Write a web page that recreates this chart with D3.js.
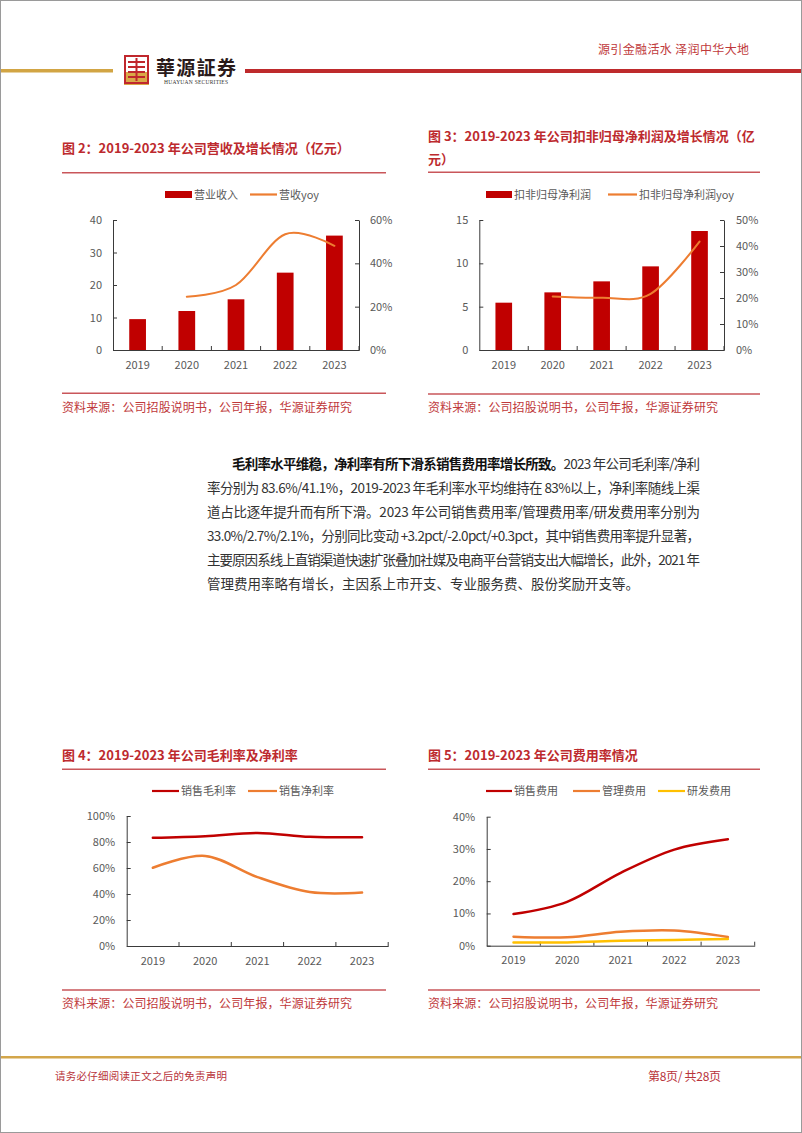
<!DOCTYPE html>
<html><head><meta charset="utf-8">
<script src="https://cdn.jsdelivr.net/npm/d3@7"></script>
<style>body{margin:0;background:#fff}svg{display:block}</style>
</head><body><svg id="page" width="802" height="1133"></svg>
<script>
// ---------- data ----------
const years = ["2019", "2020", "2021", "2022", "2023"];
const revenue = [9.5, 12.0, 15.6, 23.8, 35.2];
const revenueYoy = [null, 0.246, 0.300, 0.534, 0.481];
const profit = [5.46, 6.65, 7.92, 9.65, 13.73];
const profitYoy = [null, 0.206, 0.201, 0.216, 0.417];
const grossMargin = [0.832, 0.845, 0.870, 0.840, 0.836];
const netMargin = [0.602, 0.693, 0.530, 0.415, 0.411];
const salesExp = [0.098, 0.136, 0.226, 0.298, 0.330];
const adminExp = [0.028, 0.026, 0.043, 0.047, 0.027];
const rdExp = [0.010, 0.010, 0.015, 0.018, 0.021];
const revTicks = [0, 10, 20, 30, 40];
const revYoyTicks = [0, 0.2, 0.4, 0.6];
const profitTicks = [0, 5, 10, 15];
const profitYoyTicks = [0, 0.1, 0.2, 0.3, 0.4, 0.5];
const marginTicks = [0, 0.2, 0.4, 0.6, 0.8, 1.0];
const expTicks = [0, 0.1, 0.2, 0.3, 0.4];
const titles = ["图 2：2019-2023 年公司营收及增长情况（亿元）",
  "图 3：2019-2023 年公司扣非归母净利润及增长情况（亿", "元）",
  "图 4：2019-2023 年公司毛利率及净利率", "图 5：2019-2023 年公司费用率情况"];
const sourceText = "资料来源：公司招股说明书，公司年报，华源证券研究";
const paragraph = [
  ["毛利率水平维稳，净利率有所下滑系销售费用率增长所致。", "2023 年公司毛利率/净利"],
  ["", "率分别为 83.6%/41.1%，2019-2023 年毛利率水平均维持在 83%以上，净利率随线上渠"],
  ["", "道占比逐年提升而有所下滑。2023 年公司销售费用率/管理费用率/研发费用率分别为"],
  ["", "33.0%/2.7%/2.1%，分别同比变动 +3.2pct/-2.0pct/+0.3pct，其中销售费用率提升显著，"],
  ["", "主要原因系线上直销渠道快速扩张叠加社媒及电商平台营销支出大幅增长，此外，2021 年"],
  ["", "管理费用率略有增长，主因系上市开支、专业服务费、股份奖励开支等。"]
];

// ---------- styles ----------
const FONT = "'Noto Sans CJK SC','Noto Sans',sans-serif";
const RED_DARK = "#C00000", ORANGE = "#ED7D31", GOLD = "#FFC000";
const TITLE_C = "#BD2A2E", RULE_C = "#C9565A", AXIS_C = "#3a3a3a", LABEL_C = "#595959";

const svg = d3.select("#page");
svg.append("rect").attr("x", 0.5).attr("y", 0.5).attr("width", 801).attr("height", 1132)
  .attr("fill", "#fff").attr("stroke", "#9a9a9a");

// ---------- header ----------
svg.append("rect").attr("x", 1).attr("y", 69).attr("width", 112).attr("height", 3.5).attr("fill", "#D2A544");
svg.append("rect").attr("x", 245).attr("y", 69).attr("width", 556).attr("height", 4).attr("fill", "#BE2A2C");
const logo = svg.append("g").attr("transform", "translate(124,55)");
logo.append("rect").attr("x", 0).attr("y", 17).attr("width", 25).attr("height", 13).attr("fill", "#D9A948");
logo.append("rect").attr("x", 1).attr("y", 1).attr("width", 23).attr("height", 27).attr("fill", "none")
  .attr("stroke", "#C0272D").attr("stroke-width", 2);
[6, 11, 16, 21].forEach(yy => {
  logo.append("rect").attr("x", 4).attr("y", yy).attr("width", 17).attr("height", 2).attr("fill", "#C0272D");
});
logo.append("rect").attr("x", 11.5).attr("y", 3).attr("width", 2).attr("height", 23).attr("fill", "#C0272D");
svg.append("text").attr("x", 156).attr("y", 75).attr("font-family", "'Noto Sans CJK TC',sans-serif")
  .attr("font-weight", 700).attr("font-size", 19).attr("fill", "#2a1a1a").attr("textLength", 80)
  .text("華源証券");
svg.append("text").attr("x", 164).attr("y", 83.5).attr("font-family", "'Liberation Serif',serif")
  .attr("font-size", 5.5).attr("fill", "#333").attr("textLength", 64).text("HUAYUAN SECURITIES");
svg.append("text").attr("x", 598).attr("y", 54).attr("font-family", FONT).attr("font-size", 12)
  .attr("fill", "#C0393B").attr("textLength", 151).text("源引金融活水 泽润中华大地");

// ---------- footer ----------
svg.append("rect").attr("x", 1).attr("y", 1056).attr("width", 800).attr("height", 2.5).attr("fill", "#D3A64B");
svg.append("text").attr("x", 55).attr("y", 1080).attr("font-family", FONT).attr("font-size", 10.5)
  .attr("fill", "#B8333A").attr("textLength", 172).text("请务必仔细阅读正文之后的免责声明");
svg.append("text").attr("x", 648).attr("y", 1081).attr("font-family", FONT).attr("font-size", 12)
  .attr("fill", "#B8333A").attr("textLength", 73).text("第8页/ 共28页");

// ---------- frame helpers ----------
function frame(x0, x1, titleLines, titleY, ruleY, srcRuleY, srcY) {
  titleLines.forEach((t, i) => {
    svg.append("text").attr("x", x0).attr("y", titleY + i * 22.5).attr("font-family", FONT)
      .attr("font-weight", 700).attr("font-size", 13).attr("fill", TITLE_C).text(t);
  });
  svg.append("line").attr("x1", x0).attr("x2", x1).attr("y1", ruleY).attr("y2", ruleY)
    .attr("stroke", RULE_C).attr("stroke-width", 1.5);
  svg.append("line").attr("x1", x0).attr("x2", x1).attr("y1", srcRuleY).attr("y2", srcRuleY)
    .attr("stroke", RULE_C).attr("stroke-width", 1.5);
  svg.append("text").attr("x", x0).attr("y", srcY).attr("font-family", FONT).attr("font-size", 12)
    .attr("fill", "#C0393B").attr("textLength", 290).text(sourceText);
}

function legend(items, y) {
  items.forEach(it => {
    if (it.type === "bar") {
      svg.append("rect").attr("x", it.x).attr("y", y - 3.5).attr("width", it.w).attr("height", 7).attr("fill", it.color);
    } else {
      svg.append("line").attr("x1", it.x).attr("x2", it.x + it.w).attr("y1", y).attr("y2", y)
        .attr("stroke", it.color).attr("stroke-width", 2.2);
    }
    svg.append("text").attr("x", it.x + it.w + 2).attr("y", y + 4).attr("font-family", FONT)
      .attr("font-size", 11).attr("fill", LABEL_C).text(it.label);
  });
}

function styleAxis(g) {
  g.selectAll("path.domain").attr("stroke", AXIS_C);
  g.selectAll(".tick line").attr("stroke", AXIS_C);
  g.selectAll("text").attr("font-family", FONT).attr("font-size", 11).attr("fill", LABEL_C);
}

function xAxis(x, yPos) {
  const g = svg.append("g").attr("transform", `translate(0,${yPos})`)
    .call(d3.axisBottom(x).tickSize(0).tickSizeOuter(0).tickPadding(11));
  styleAxis(g);
  const bounds = years.slice(1).map(d => x(d)).concat([x.range()[1]]);
  svg.append("g").selectAll("line").data(bounds).join("line")
    .attr("x1", d => d).attr("x2", d => d).attr("y1", yPos).attr("y2", yPos - 4)
    .attr("stroke", AXIS_C);
}

function leftAxis(y, xPos, ticks, fmt, pad) {
  const g = svg.append("g").attr("transform", `translate(${xPos},0)`)
    .call(d3.axisLeft(y).tickValues(ticks).tickFormat(fmt).tickSize(-4).tickSizeOuter(0).tickPadding(pad));
  styleAxis(g);
}
function rightAxis(y, xPos, ticks, fmt, pad) {
  const g = svg.append("g").attr("transform", `translate(${xPos},0)`)
    .call(d3.axisRight(y).tickValues(ticks).tickFormat(fmt).tickSize(-4).tickSizeOuter(0).tickPadding(pad));
  styleAxis(g);
}

const pct = d3.format(".0%");
const curve = d3.curveCardinal.tension(0);

function drawLine(x, y, values, color, width) {
  const pts = years.map((d, i) => [d, values[i]]).filter(p => p[1] !== null);
  svg.append("path").datum(pts)
    .attr("d", d3.line().x(p => x(p[0]) + x.bandwidth() / 2).y(p => y(p[1])).curve(curve))
    .attr("fill", "none").attr("stroke", color).attr("stroke-width", width).attr("stroke-linecap", "round");
}
function drawBars(x, y, values) {
  const bw = x.bandwidth() * 0.34;
  svg.append("g").selectAll("rect").data(values).join("rect")
    .attr("x", (d, i) => x(years[i]) + x.bandwidth() / 2 - bw / 2)
    .attr("y", d => y(d)).attr("width", bw).attr("height", d => y(0) - y(d))
    .attr("fill", RED_DARK);
}

// ---------- Chart 2 ----------
frame(62, 386, [titles[0]], 153, 172.7, 393.3, 411.5);
legend([{type: "bar", x: 165, w: 27, color: RED_DARK, label: "营业收入"},
        {type: "line", x: 250, w: 27, color: ORANGE, label: "营收yoy"}], 194.5);
{
  const x = d3.scaleBand().domain(years).range([113, 359]).padding(0);
  const y = d3.scaleLinear().domain([0, 40]).range([350, 220]);
  const y2 = d3.scaleLinear().domain([0, 0.6]).range([350, 220]);
  drawBars(x, y, revenue);
  leftAxis(y, 113, revTicks, d3.format("d"), 11);
  rightAxis(y2, 359, revYoyTicks, pct, 11);
  xAxis(x, 350);
  drawLine(x, y2, revenueYoy, ORANGE, 2);
}

// ---------- Chart 3 ----------
frame(428, 760, [titles[1], titles[2]], 141, 172.3, 394, 411.5);
legend([{type: "bar", x: 486, w: 26, color: RED_DARK, label: "扣非归母净利润"},
        {type: "line", x: 608, w: 29, color: ORANGE, label: "扣非归母净利润yoy"}], 194.5);
{
  const x = d3.scaleBand().domain(years).range([479.3, 724]).padding(0);
  const y = d3.scaleLinear().domain([0, 15]).range([350, 220]);
  const y2 = d3.scaleLinear().domain([0, 0.5]).range([350, 220]);
  drawBars(x, y, profit);
  leftAxis(y, 479.3, profitTicks, d3.format("d"), 11);
  rightAxis(y2, 724, profitYoyTicks, pct, 12);
  xAxis(x, 350);
  drawLine(x, y2, profitYoy, ORANGE, 2);
}

// ---------- Paragraph ----------
paragraph.forEach((ln, i) => {
  const first = i === 0;
  const t = svg.append("text").attr("x", first ? 232 : 207).attr("y", 469 + i * 24)
    .attr("font-family", FONT).attr("font-size", 13.5).attr("fill", "#333");
  if (ln[0]) t.append("tspan").attr("font-weight", 700).attr("fill", "#111").text(ln[0]);
  t.append("tspan").text(ln[1]);
  if (i < paragraph.length - 1) {
    t.attr("textLength", first ? 468 : 493).attr("lengthAdjust", "spacing");
  }
});

// ---------- Chart 4 ----------
frame(62, 386, [titles[3]], 760, 769.3, 990, 1007.5);
legend([{type: "line", x: 152, w: 27, color: RED_DARK, label: "销售毛利率"},
        {type: "line", x: 248, w: 29, color: ORANGE, label: "销售净利率"}], 791);
{
  const x = d3.scaleBand().domain(years).range([126.7, 388.2]).padding(0);
  const y = d3.scaleLinear().domain([0, 1]).range([946, 816]);
  leftAxis(y, 126.7, marginTicks, pct, 11.5);
  xAxis(x, 946);
  drawLine(x, y, grossMargin, RED_DARK, 2.5);
  drawLine(x, y, netMargin, ORANGE, 2.5);
}

// ---------- Chart 5 ----------
frame(428, 760, [titles[4]], 760, 769.3, 990, 1007.5);
legend([{type: "line", x: 486, w: 26, color: RED_DARK, label: "销售费用"},
        {type: "line", x: 573, w: 27, color: ORANGE, label: "管理费用"},
        {type: "line", x: 658, w: 27, color: GOLD, label: "研发费用"}], 791);
{
  const x = d3.scaleBand().domain(years).range([486.7, 754.7]).padding(0);
  const y = d3.scaleLinear().domain([0, 0.4]).range([945.7, 816.7]);
  leftAxis(y, 486.7, expTicks, pct, 11.5);
  xAxis(x, 945.7);
  drawLine(x, y, salesExp, RED_DARK, 2.5);
  drawLine(x, y, adminExp, ORANGE, 2.5);
  drawLine(x, y, rdExp, GOLD, 2.5);
}
</script></body></html>
